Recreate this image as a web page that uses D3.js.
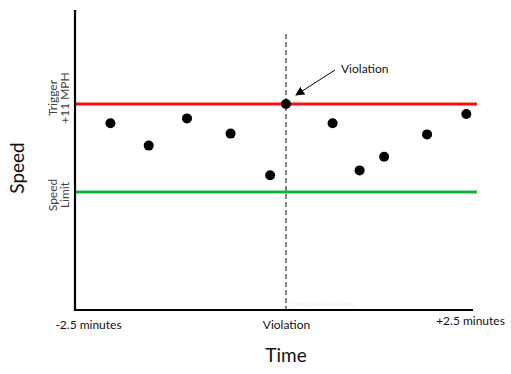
<!DOCTYPE html>
<html><head><meta charset="utf-8">
<script src="https://cdn.jsdelivr.net/npm/d3@7"></script>
<style>body{margin:0;background:#fff}svg{display:block;font-family:Lato,"Open Sans",sans-serif}</style>
</head><body><svg id="c" width="511" height="374"></svg>
<script>
// time in seconds relative to the violation; speed in MPH over the limit
const times  = [-133, -104, -75, -42, -12, 0, 38, 60, 80, 115, 147];
const speeds = [8.6, 5.8, 9.2, 7.3, 2.1, 11, 8.6, 2.7, 4.4, 7.2, 9.75];
const tickValues = [-150, 0, 150];
const tickLabels = ["-2.5 minutes", "Violation", "+2.5 minutes"];
const refValues = [11, 0];
const refLabels = [["Trigger", "+11 MPH"], ["Speed", "Limit"]];
const refLabelShift = [-6, 3];
const refColors = ["#f80d0d", "#15b23a"];
const violationTime = 0;

const svg = d3.select("#c");
const x = d3.scaleLinear().domain([-150, 0, 150]).range([88, 286, 470]);
const y = d3.scaleLinear().domain([-14.75, 22.75]).range([310, 10]);
const left = 75, right = 477;

// watermark
svg.append("text").attr("x", x(violationTime) + 4).attr("y", 306)
  .attr("font-size", 6).attr("fill", "#f1f1f1").text("Chart by R&A Law Group");

// reference lines
refValues.forEach((v, i) => {
  svg.append("line").attr("x1", left).attr("x2", right).attr("y1", y(v)).attr("y2", y(v))
    .attr("stroke", refColors[i]).attr("stroke-width", 3);
  const g = svg.append("g").attr("transform", `translate(0,${y(v) + refLabelShift[i]}) rotate(-90)`);
  refLabels[i].forEach((t, j) => {
    g.append("text").attr("x", 0).attr("y", 57 + j * 12).attr("text-anchor", "middle")
      .attr("font-size", 12).attr("fill", "#444").text(t);
  });
});

// violation dashed line
svg.append("line").attr("x1", x(violationTime)).attr("x2", x(violationTime))
  .attr("y1", 34).attr("y2", 310).attr("stroke", "#777").attr("stroke-width", 1.8)
  .attr("stroke-dasharray", "5,3");

// axes
svg.append("line").attr("x1", left).attr("x2", left).attr("y1", 10).attr("y2", 311)
  .attr("stroke", "#000").attr("stroke-width", 2.2);
svg.append("line").attr("x1", left - 1).attr("x2", 473).attr("y1", 310).attr("y2", 310)
  .attr("stroke", "#000").attr("stroke-width", 2.2);

const ax = svg.append("g").attr("transform", "translate(0,310)")
  .call(d3.axisBottom(x).tickValues(tickValues).tickFormat((d, i) => tickLabels[i]).tickSize(0).tickPadding(10));
ax.select(".domain").remove();
ax.selectAll("text").attr("font-family", "Lato, sans-serif").attr("font-size", 12).attr("fill", "#111");
ax.selectAll(".tick").filter((d, i) => i === 2).select("text").attr("dy", "0.45em");

// axis titles
svg.append("text").attr("x", 286).attr("y", 362).attr("text-anchor", "middle")
  .attr("font-size", 19).attr("fill", "#111").text("Time");
svg.append("text").attr("transform", "translate(24,168) rotate(-90)").attr("text-anchor", "middle")
  .attr("font-size", 19).attr("fill", "#111").text("Speed");

// points
svg.selectAll("circle.pt").data(times).join("circle").attr("class", "pt")
  .attr("cx", d => x(d)).attr("cy", (d, i) => y(speeds[i])).attr("r", 5).attr("fill", "#000");

// annotation
const defs = svg.append("defs");
defs.append("marker").attr("id", "ah").attr("viewBox", "0 0 10 10").attr("refX", 9).attr("refY", 5)
  .attr("markerWidth", 9).attr("markerHeight", 9).attr("orient", "auto-start-reverse")
  .attr("markerUnits", "userSpaceOnUse")
  .append("path").attr("d", "M0,0L10,5L0,10z").attr("fill", "#000");
svg.append("line").attr("x1", 335).attr("y1", 70).attr("x2", x(violationTime) + 10).attr("y2", y(speeds[5]) - 9)
  .attr("stroke", "#000").attr("stroke-width", 1).attr("marker-end", "url(#ah)");
svg.append("text").attr("x", 341).attr("y", 73).attr("font-size", 12).attr("fill", "#111").text("Violation");
</script></body></html>
